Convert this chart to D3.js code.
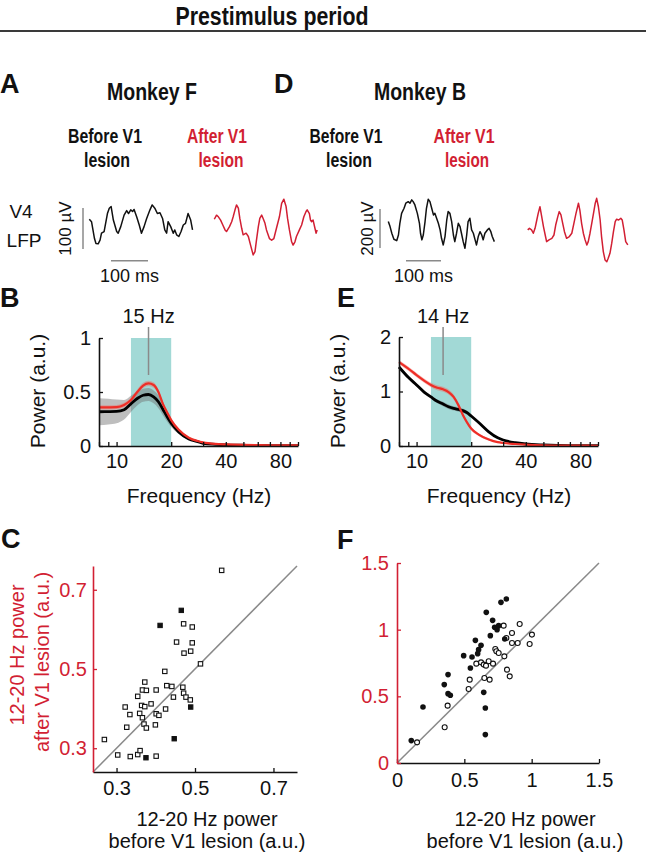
<!DOCTYPE html>
<html><head><meta charset="utf-8">
<script src="https://cdn.jsdelivr.net/npm/d3@7"></script>
<style>
body{margin:0;background:#fff}
svg{display:block}
text{font-family:"Liberation Sans",Arial,Helvetica,sans-serif}
</style>
</head><body>
<svg id="chart" width="646" height="853"></svg>
<script>
// ---------------- DATA ----------------
// LFP example traces: [time ms, amplitude µV]
const traceF_before = [[0,14],[6,8],[14,-33],[18,-45],[24,-46],[29,-37],[33,-20],[40,-16],[45,8],[49,28],[54,41],[59,45],[65,12],[74,-16],[78,-20],[85,-4],[94,24],[101,35],[106,28],[112,37],[117,33],[121,38],[128,20],[135,0],[141,-20],[148,-4],[155,16],[164,37],[170,49],[177,41],[184,28],[191,30],[198,16],[204,-12],[209,-20],[213,8],[220,-4],[227,-20],[231,-12],[236,-24],[242,-28],[248,-16],[254,0],[260,4],[267,28],[274,12],[279,-12]];
const traceF_after = [[0,14],[6,24],[11,20],[17,12],[23,0],[29,-12],[33,-16],[41,-4],[47,8],[51,20],[56,37],[60,49],[65,41],[69,16],[74,-8],[78,-24],[86,-20],[92,-28],[98,-49],[105,-73],[110,-65],[114,-37],[119,-4],[123,16],[128,24],[132,16],[137,4],[141,-12],[149,-33],[155,-37],[161,-33],[168,-8],[176,20],[182,53],[188,63],[194,45],[198,16],[203,-12],[209,-41],[213,-49],[218,-41],[222,-28],[230,-12],[236,0],[242,20],[248,33],[251,37],[257,28],[260,12],[263,8],[267,12],[272,-8],[275,-20],[278,-12]];
const traceB_before = [[0,9],[5,-17],[10,-51],[16,-82],[24,-89],[29,-60],[33,0],[38,51],[45,77],[50,103],[57,111],[62,103],[67,120],[71,111],[76,94],[83,51],[89,0],[92,-51],[96,-85],[100,-60],[105,9],[109,77],[114,123],[119,111],[124,77],[129,43],[133,51],[138,26],[143,0],[148,-34],[152,-77],[157,-111],[162,-68],[167,17],[171,60],[176,51],[181,9],[186,-60],[190,-94],[195,-51],[200,0],[205,-17],[209,-51],[214,-94],[219,-128],[224,-60],[228,9],[233,26],[238,-34],[243,-51],[248,-85],[252,-111],[257,-68],[262,-43],[267,-60],[271,-85],[276,-51],[283,-34],[288,-26],[293,-43],[297,-68],[303,-94]];
const traceB_after = [[0,-34],[5,-26],[11,-34],[16,-51],[21,-26],[26,17],[30,51],[35,85],[40,34],[45,-17],[50,-60],[54,-94],[61,-85],[69,-77],[75,-60],[80,-9],[86,34],[90,60],[95,43],[100,0],[105,-43],[111,-77],[119,-68],[126,-51],[132,0],[138,51],[145,103],[149,68],[154,0],[159,-51],[164,-85],[169,-111],[173,-94],[178,-51],[183,0],[188,51],[193,103],[197,128],[202,85],[207,17],[211,-68],[216,-145],[221,-188],[226,-197],[230,-179],[235,-154],[240,-103],[245,-43],[250,9],[254,21],[260,17],[266,26],[270,17],[275,-34],[280,-94],[286,-111]];

// Power spectra (frequency Hz)
const freqs = [8,9,10,11,12,13,14,15,16,17,18,19,20,22,25,28,30,35,40,50,60,80,100];
const specF_before     = [0.317,0.318,0.32,0.335,0.39,0.44,0.47,0.477,0.455,0.41,0.34,0.27,0.21,0.13,0.065,0.04,0.025,0.015,0.01,0.007,0.005,0.004,0.003];
const specF_beforeSem  = [0.125,0.12,0.11,0.09,0.075,0.065,0.06,0.06,0.06,0.06,0.055,0.045,0.035,0.02,0.01,0.006,0.005,0.003,0.003,0.003,0.003,0.003,0.003];
const specF_after      = [0.357,0.358,0.36,0.38,0.425,0.50,0.56,0.58,0.565,0.50,0.39,0.31,0.24,0.15,0.077,0.046,0.034,0.02,0.015,0.01,0.008,0.006,0.005];
const specF_afterSem   = [0.02,0.02,0.02,0.02,0.022,0.024,0.025,0.025,0.025,0.024,0.022,0.02,0.018,0.014,0.01,0.006,0.005,0.004,0.003,0.003,0.003,0.003,0.003];
const specB_before     = [1.45,1.26,1.12,0.99,0.90,0.82,0.77,0.72,0.69,0.67,0.65,0.61,0.55,0.43,0.26,0.15,0.11,0.06,0.037,0.02,0.012,0.008,0.006];
const specB_beforeSem  = [0.03,0.03,0.03,0.03,0.03,0.035,0.04,0.04,0.04,0.04,0.04,0.035,0.03,0.025,0.02,0.012,0.01,0.006,0.004,0.003,0.003,0.003,0.003];
const specB_after      = [1.54,1.42,1.30,1.20,1.12,1.07,1.04,0.99,0.90,0.75,0.57,0.43,0.32,0.21,0.12,0.07,0.055,0.037,0.025,0.012,0.008,0.006,0.005];
const specB_afterSem   = [0.04,0.04,0.04,0.04,0.04,0.045,0.045,0.045,0.045,0.04,0.04,0.035,0.03,0.025,0.02,0.012,0.01,0.006,0.004,0.003,0.003,0.003,0.003];
const bandHz = [12, 20];
const peakF = 15, peakB = 14;
const freqTickVals = [8,9,10,20,30,40,50,60,70,80,90,100];
const freqTickLabels = [10,20,40,80];
const powerTicksF = [0,0.5,1];
const powerTicksB = [0,1,2];

// Scatter: 12-20 Hz power before (x) vs after (y) V1 lesion
const scatF_openX = [0.568,0.471,0.493,0.453,0.493,0.472,0.489,0.514,0.423,0.372,0.366,0.376,0.401,0.354,0.428,0.441,0.445,0.469,0.471,0.477,0.488,0.322,0.334,0.364,0.372,0.388,0.359,0.366,0.401,0.408,0.425,0.326,0.370,0.376,0.399,0.269,0.303,0.335,0.354,0.360,0.401];
const scatF_openY = [0.749,0.614,0.606,0.568,0.566,0.540,0.545,0.513,0.494,0.467,0.447,0.446,0.447,0.431,0.458,0.456,0.429,0.454,0.439,0.429,0.422,0.404,0.385,0.408,0.405,0.412,0.388,0.377,0.387,0.383,0.399,0.353,0.361,0.351,0.359,0.322,0.283,0.279,0.284,0.294,0.280];
const scatF_fillX = [0.465,0.411,0.489,0.447,0.375];
const scatF_fillY = [0.648,0.610,0.404,0.324,0.276];
const scatF_ticks = [0.3,0.5,0.7];

const scatB_fillX = [0.812,0.772,0.663,0.710,0.725,0.755,0.743,0.800,0.693,0.582,0.624,0.606,0.599,0.495,0.557,0.545,0.379,0.351,0.379,0.396,0.193,0.644,0.656,0.656,0.106];
const scatB_fillY = [1.230,1.205,1.130,1.070,1.018,1.030,1.000,0.930,0.955,0.920,0.883,0.850,0.820,0.805,0.795,0.713,0.663,0.588,0.520,0.508,0.420,0.530,0.413,0.213,0.168];
const scatB_openX = [0.792,0.911,0.854,0.812,0.854,0.896,1.002,0.985,0.730,0.738,0.755,0.797,0.589,0.624,0.644,0.681,0.713,0.661,0.817,0.837,0.540,0.532,0.649,0.688,0.376,0.354,0.149];
const scatB_openY = [1.030,1.043,0.975,0.938,0.900,0.900,0.963,0.893,0.855,0.838,0.825,0.800,0.745,0.755,0.738,0.763,0.745,0.730,0.700,0.650,0.625,0.555,0.638,0.625,0.430,0.268,0.155];
const scatB_ticks = [0,0.5,1,1.5];

// ---------------- DRAWING ----------------
const RED_TXT = "#d21f33", RED_LINE = "#ee2e27", BLACK = "#111", GRAY = "#8a8a8a", CYAN = "#a2d9d6";
const svg = d3.select("#chart");

function text(x, y, s, o = {}) {
  const t = svg.append("text").attr("x", x).attr("y", y).text(s)
    .attr("font-size", o.size || 20).attr("fill", o.fill || BLACK)
    .attr("text-anchor", o.anchor || "middle")
    .attr("font-weight", o.bold ? "bold" : "normal");
  if (o.len) t.attr("textLength", o.len).attr("lengthAdjust", "spacingAndGlyphs");
  if (o.rot) t.attr("transform", `rotate(${o.rot},${x},${y})`);
  return t;
}

// Title
text(272, 25, "Prestimulus period", {size: 25, bold: true, len: 193});
svg.append("line").attr("x1", 0).attr("x2", 646).attr("y1", 31).attr("y2", 31).attr("stroke", "#3a3a3a").attr("stroke-width", 2);

// Panel letters
[["A", 0, 93], ["D", 274, 93], ["B", 0, 307], ["E", 337, 307], ["C", 1, 548], ["F", 337, 549]].forEach(([l, x, y]) =>
  text(x, y, l, {size: 27, bold: true, anchor: "start"}));

// Headers
text(152, 100, "Monkey F", {size: 23, bold: true, len: 90});
text(420, 100, "Monkey B", {size: 23, bold: true, len: 92});
text(105, 143, "Before V1", {size: 20, bold: true, len: 74});
text(107, 167, "lesion", {size: 20, bold: true, len: 46});
text(217, 143, "After V1", {size: 20, bold: true, len: 60, fill: RED_TXT});
text(221, 167, "lesion", {size: 20, bold: true, len: 45, fill: RED_TXT});
text(346, 143, "Before V1", {size: 20, bold: true, len: 73});
text(349, 167, "lesion", {size: 20, bold: true, len: 46});
text(464, 143, "After V1", {size: 20, bold: true, len: 61, fill: RED_TXT});
text(467, 167, "lesion", {size: 20, bold: true, len: 44, fill: RED_TXT});

// ---- LFP traces ----
text(21, 218, "V4", {size: 19});
text(24, 247, "LFP", {size: 19});

function drawTraces(cfg) {
  const t = d3.scaleLinear().domain([0, 100]).range([0, cfg.msPx]);
  const v = d3.scaleLinear().domain([0, cfg.uv]).range([0, -cfg.uvPx]);
  const line = d3.line().x(d => t(d[0])).y(d => v(d[1]));
  svg.append("path").datum(cfg.before).attr("transform", `translate(${cfg.x0},${cfg.base})`)
    .attr("d", line).attr("fill", "none").attr("stroke", BLACK).attr("stroke-width", 1.5).attr("stroke-linejoin", "round");
  svg.append("path").datum(cfg.after).attr("transform", `translate(${cfg.x1},${cfg.base})`)
    .attr("d", line).attr("fill", "none").attr("stroke", RED_TXT).attr("stroke-width", 1.5).attr("stroke-linejoin", "round");
  // scale bars
  svg.append("line").attr("x1", cfg.vbx).attr("x2", cfg.vbx).attr("y1", cfg.vbTop).attr("y2", cfg.vbTop + (v(0) - v(cfg.uv)))
    .attr("stroke", GRAY).attr("stroke-width", 1.5);
  svg.append("line").attr("x1", cfg.hbx).attr("x2", cfg.hbx + t(100)).attr("y1", 260.7).attr("y2", 260.7)
    .attr("stroke", GRAY).attr("stroke-width", 1.5);
  text(cfg.hbx + t(100) / 2, 282, "100 ms", {size: 18});
  text(cfg.lblX, cfg.vbTop + (v(0) - v(cfg.uv)) / 2, cfg.uv + " µV", {size: 17, rot: -90});
}
drawTraces({before: traceF_before, after: traceF_after, x0: 89.3, x1: 214.3, base: 225, msPx: 37, uv: 100, uvPx: 41,
  vbx: 83, vbTop: 208, hbx: 111, lblX: 71});
drawTraces({before: traceB_before, after: traceB_after, x0: 388.3, x1: 527.7, base: 223.3, msPx: 35, uv: 200, uvPx: 39,
  vbx: 380, vbTop: 209, hbx: 406, lblX: 373});

// ---- Spectra ----
function styleAxis(g, color) {
  g.select(".domain").attr("stroke", color).attr("stroke-width", 1.6);
  g.selectAll(".tick line").attr("stroke", color).attr("stroke-width", 1.3);
  g.selectAll(".tick text").attr("fill", color).attr("font-size", 20)
    .attr("font-family", '"Liberation Sans",Arial,Helvetica,sans-serif');
}

function drawSpectrum(cfg) {
  const x = d3.scaleLog().domain([8, 100]).range([cfg.x0, cfg.x0 + 199]);
  const y = d3.scaleLinear().domain([0, cfg.ymax]).range([446, cfg.yTop]);
  // band
  svg.append("rect").attr("x", x(bandHz[0])).attr("y", y(cfg.ymax)).attr("width", x(bandHz[1]) - x(bandHz[0]))
    .attr("height", y(0) - y(cfg.ymax)).attr("fill", CYAN);
  const rows = (m, s) => freqs.map((f, i) => ({f, m: m[i], s: s[i]}));
  const area = d3.area().x(d => x(d.f)).y0(d => y(Math.max(0, d.m - d.s))).y1(d => y(d.m + d.s)).curve(d3.curveMonotoneX);
  const line = d3.line().x(d => x(d.f)).y(d => y(d.m)).curve(d3.curveMonotoneX);
  const b = rows(cfg.before, cfg.beforeSem), a = rows(cfg.after, cfg.afterSem);
  svg.append("path").datum(b).attr("d", area).attr("fill", "#6e6e6e").attr("fill-opacity", 0.45);
  svg.append("path").datum(a).attr("d", area).attr("fill", "#f06a62").attr("fill-opacity", 0.45);
  svg.append("path").datum(b).attr("d", line).attr("fill", "none").attr("stroke", "#000").attr("stroke-width", 2.8);
  svg.append("path").datum(a).attr("d", line).attr("fill", "none").attr("stroke", RED_LINE).attr("stroke-width", 2.2);
  // peak marker
  svg.append("line").attr("x1", x(cfg.peak)).attr("x2", x(cfg.peak)).attr("y1", 327).attr("y2", 375)
    .attr("stroke", GRAY).attr("stroke-width", 1.5);
  text(x(cfg.peak), 323, cfg.peak + " Hz", {size: 20});
  // axes
  const gx = svg.append("g").attr("transform", "translate(0,446)")
    .call(d3.axisBottom(x).tickValues(freqTickVals).tickSize(-4).tickSizeOuter(0).tickPadding(8)
      .tickFormat(d => freqTickLabels.includes(d) ? d : ""));
  styleAxis(gx, BLACK);
  const gy = svg.append("g").attr("transform", `translate(${cfg.x0},0)`)
    .call(d3.axisLeft(y).tickValues(cfg.ticks).tickSize(-4).tickSizeOuter(0).tickPadding(8).tickFormat(d3.format("")));
  styleAxis(gy, BLACK);
  text(cfg.x0 + 100, 503, "Frequency (Hz)", {size: 21});
  text(cfg.x0 - 54, 391, "Power (a.u.)", {size: 21, rot: -90});
}
drawSpectrum({x0: 99, yTop: 338, ymax: 1, before: specF_before, beforeSem: specF_beforeSem, after: specF_after,
  afterSem: specF_afterSem, peak: peakF, ticks: powerTicksF});
drawSpectrum({x0: 399, yTop: 337, ymax: 2, before: specB_before, beforeSem: specB_beforeSem, after: specB_after,
  afterSem: specB_afterSem, peak: peakB, ticks: powerTicksB});

// ---- Scatter plots ----
function drawScatter(cfg) {
  const x = d3.scaleLinear().domain(cfg.dom).range([cfg.x0, cfg.x1]);
  const y = d3.scaleLinear().domain(cfg.dom).range([cfg.y0, cfg.y1]);
  svg.append("line").attr("x1", x(cfg.dom[0])).attr("y1", y(cfg.dom[0])).attr("x2", x(cfg.dom[1])).attr("y2", y(cfg.dom[1]))
    .attr("stroke", GRAY).attr("stroke-width", 1.5);
  const gx = svg.append("g").attr("transform", `translate(0,${cfg.y0})`)
    .call(d3.axisBottom(x).tickValues(cfg.ticks).tickSize(-4).tickSizeOuter(0).tickPadding(cfg.xpad).tickFormat(d3.format("")));
  styleAxis(gx, BLACK);
  const gy = svg.append("g").attr("transform", `translate(${cfg.x0},0)`)
    .call(d3.axisLeft(y).tickValues(cfg.ticks).tickSize(-4).tickSizeOuter(0).tickPadding(cfg.ypad).tickFormat(d3.format("")));
  styleAxis(gy, RED_TXT);
  cfg.draw(x, y);
  const cx = (cfg.x0 + cfg.x1) / 2 + cfg.labShift;
  text(cx, 826, "12-20 Hz power", {size: 20});
  text(cx, 848, "before V1 lesion (a.u.)", {size: 20});
}
drawScatter({dom: [0.24, 0.76], x0: 93, x1: 297, y0: 772, y1: 566, ticks: scatF_ticks, xpad: 9, ypad: 6, labShift: 12,
  draw: (x, y) => {
    const s = 4.4;
    svg.append("g").selectAll("rect.o").data(scatF_openX.map((v, i) => [v, scatF_openY[i]])).join("rect")
      .attr("x", d => x(d[0]) - s / 2).attr("y", d => y(d[1]) - s / 2).attr("width", s).attr("height", s)
      .attr("fill", "#fff").attr("stroke", BLACK).attr("stroke-width", 1.1);
    svg.append("g").selectAll("rect.f").data(scatF_fillX.map((v, i) => [v, scatF_fillY[i]])).join("rect")
      .attr("x", d => x(d[0]) - s / 2).attr("y", d => y(d[1]) - s / 2).attr("width", s).attr("height", s)
      .attr("fill", BLACK).attr("stroke", BLACK).attr("stroke-width", 1);
  }});
drawScatter({dom: [0, 1.5], x0: 397, x1: 599, y0: 763, y1: 563, ticks: scatB_ticks, xpad: 10, ypad: 8, labShift: 27,
  draw: (x, y) => {
    svg.append("g").selectAll("circle.o").data(scatB_openX.map((v, i) => [v, scatB_openY[i]])).join("circle")
      .attr("cx", d => x(d[0])).attr("cy", d => y(d[1])).attr("r", 2.5)
      .attr("fill", "#fff").attr("stroke", BLACK).attr("stroke-width", 1.1);
    svg.append("g").selectAll("circle.f").data(scatB_fillX.map((v, i) => [v, scatB_fillY[i]])).join("circle")
      .attr("cx", d => x(d[0])).attr("cy", d => y(d[1])).attr("r", 2.8).attr("fill", BLACK);
  }});
text(24, 655, "12-20 Hz power", {size: 20, fill: RED_TXT, rot: -90});
text(49, 662, "after V1 lesion (a.u.)", {size: 20, fill: RED_TXT, rot: -90});
</script>
</body></html>
